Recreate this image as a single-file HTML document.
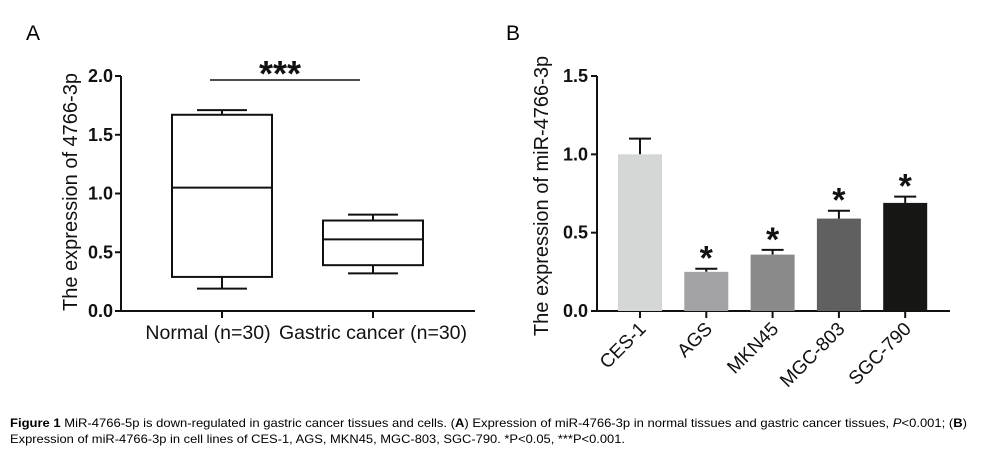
<!DOCTYPE html>
<html><head><meta charset="utf-8"><style>
body{margin:0;background:#fff}
svg{display:block;font-family:"Liberation Sans",sans-serif}
</style></head><body>
<svg id="fig" width="983" height="467" viewBox="0 0 983 467">
<text x="26" y="40" font-size="21">A</text>
<text x="506" y="40" font-size="21">B</text>
<g id="pa"></g>
<g id="pb"></g>
<text x="10" y="427" font-size="12" textLength="957" lengthAdjust="spacingAndGlyphs"><tspan font-weight="bold">Figure 1</tspan> MiR-4766-5p is down-regulated in gastric cancer tissues and cells. (<tspan font-weight="bold">A</tspan>) Expression of miR-4766-3p in normal tissues and gastric cancer tissues, <tspan font-style="italic">P</tspan>&lt;0.001; (<tspan font-weight="bold">B</tspan>)</text>
<text x="10" y="443" font-size="12" textLength="615" lengthAdjust="spacingAndGlyphs">Expression of miR-4766-3p in cell lines of CES-1, AGS, MKN45, MGC-803, SGC-790. *P&lt;0.05, ***P&lt;0.001.</text>
</svg>
<script>
const boxCats=["Normal (n=30)","Gastric cancer (n=30)"];
const boxMin=[0.19,0.32];
const boxQ1=[0.29,0.39];
const boxMed=[1.05,0.61];
const boxQ3=[1.67,0.77];
const boxMax=[1.71,0.82];
const aTicks=[0,0.5,1.0,1.5,2.0];
const aTickLabels=["0.0","0.5","1.0","1.5","2.0"];
const barCats=["CES-1","AGS","MKN45","MGC-803","SGC-790"];
const barVals=[1.0,0.25,0.36,0.59,0.69];
const barErr=[0.10,0.02,0.03,0.05,0.04];
const barSig=["","*","*","*","*"];
const bTicks=[0,0.5,1.0,1.5];
const bTickLabels=["0.0","0.5","1.0","1.5"];
const barColors=["#d4d7d6","#a3a3a5","#8a8a8a","#606060","#161614"];
const NS="http://www.w3.org/2000/svg";
function mk(p,t,a){const e=document.createElementNS(NS,t);for(const k in a)e.setAttribute(k,a[k]);p.appendChild(e);return e;}
// Panel A
const pa=document.getElementById('pa');
const ayA=v=>311-v*(235/2);
const axA=i=>222+i*151;
let e=mk(pa,'line',{x1:121,y1:76,x2:121,y2:312,stroke:'#111','stroke-width':2});

e=mk(pa,'line',{x1:120,y1:311,x2:475,y2:311,stroke:'#111','stroke-width':2});

aTicks.forEach((v,i)=>{mk(pa,'line',{x1:115,y1:ayA(v),x2:121,y2:ayA(v),stroke:'#111','stroke-width':2});
 e=mk(pa,'text',{x:113,y:ayA(v)+6,'font-size':18,'font-weight':'bold','text-anchor':'end',fill:'#111'});e.textContent=aTickLabels[i];
 });
e=mk(pa,'text',{x:0,y:0,'font-size':20,'text-anchor':'middle',fill:'#111',transform:'translate(77,192) rotate(-90)'});e.textContent='The expression of 4766-3p';

boxCats.forEach((c,i)=>{const x=axA(i);
 mk(pa,'line',{x1:x,y1:311,x2:x,y2:318,stroke:'#111','stroke-width':2});
 const g=mk(pa,'g',{stroke:'#111','stroke-width':2,fill:'none'});
 
 mk(g,'rect',{x:x-50,y:ayA(boxQ3[i]),width:100,height:ayA(boxQ1[i])-ayA(boxQ3[i])});
 mk(g,'line',{x1:x-50,y1:ayA(boxMed[i]),x2:x+50,y2:ayA(boxMed[i])});
 mk(g,'line',{x1:x,y1:ayA(boxQ3[i]),x2:x,y2:ayA(boxMax[i])});
 mk(g,'line',{x1:x,y1:ayA(boxQ1[i]),x2:x,y2:ayA(boxMin[i])});
 mk(g,'line',{x1:x-25,y1:ayA(boxMax[i]),x2:x+25,y2:ayA(boxMax[i])});
 mk(g,'line',{x1:x-25,y1:ayA(boxMin[i]),x2:x+25,y2:ayA(boxMin[i])});
 e=mk(pa,'text',{x:x-(i?0:14),y:339,'font-size':19.5,'text-anchor':'middle',fill:'#111'});e.textContent=c;
 });
e=mk(pa,'line',{x1:210,y1:80,x2:360,y2:80,stroke:'#111','stroke-width':1.5});

e=mk(pa,'text',{x:280,y:86,'font-size':36,'font-weight':'bold','text-anchor':'middle',fill:'#111'});e.textContent='***';

// Panel B
const pb=document.getElementById('pb');
const ayB=v=>311-v*(235/1.5);
const axB=i=>640+i*66.3;
e=mk(pb,'line',{x1:597,y1:76,x2:597,y2:312,stroke:'#111','stroke-width':2});

e=mk(pb,'line',{x1:596,y1:311,x2:950,y2:311,stroke:'#111','stroke-width':2});

bTicks.forEach((v,i)=>{mk(pb,'line',{x1:591,y1:ayB(v),x2:597,y2:ayB(v),stroke:'#111','stroke-width':2});
 e=mk(pb,'text',{x:588,y:ayB(v)+6,'font-size':18,'font-weight':'bold','text-anchor':'end',fill:'#111'});e.textContent=bTickLabels[i];
 });
e=mk(pb,'text',{x:0,y:0,'font-size':20,'text-anchor':'middle',fill:'#111',transform:'translate(548,196) rotate(-90)'});e.textContent='The expression of miR-4766-3p';

barCats.forEach((c,i)=>{const x=axB(i);const top=ayB(barVals[i]);const et=ayB(barVals[i]+barErr[i]);
 mk(pb,'line',{x1:x,y1:top,x2:x,y2:et,stroke:'#111','stroke-width':2});
 mk(pb,'line',{x1:x-11,y1:et,x2:x+11,y2:et,stroke:'#111','stroke-width':2});
 e=mk(pb,'rect',{x:x-22,y:top,width:44,height:311-top,fill:barColors[i]});
 
 mk(pb,'line',{x1:x,y1:311,x2:x,y2:318,stroke:'#111','stroke-width':2});
 if(barSig[i]){e=mk(pb,'text',{x:x,y:et+1,'font-size':34,'font-weight':'bold','text-anchor':'middle',fill:'#111'});e.textContent=barSig[i];
  }
 e=mk(pb,'text',{x:0,y:0,'font-size':19,'text-anchor':'end',fill:'#111',transform:'translate('+(x+7)+',330) rotate(-45)'});e.textContent=c;
 });
</script>
</body></html>
